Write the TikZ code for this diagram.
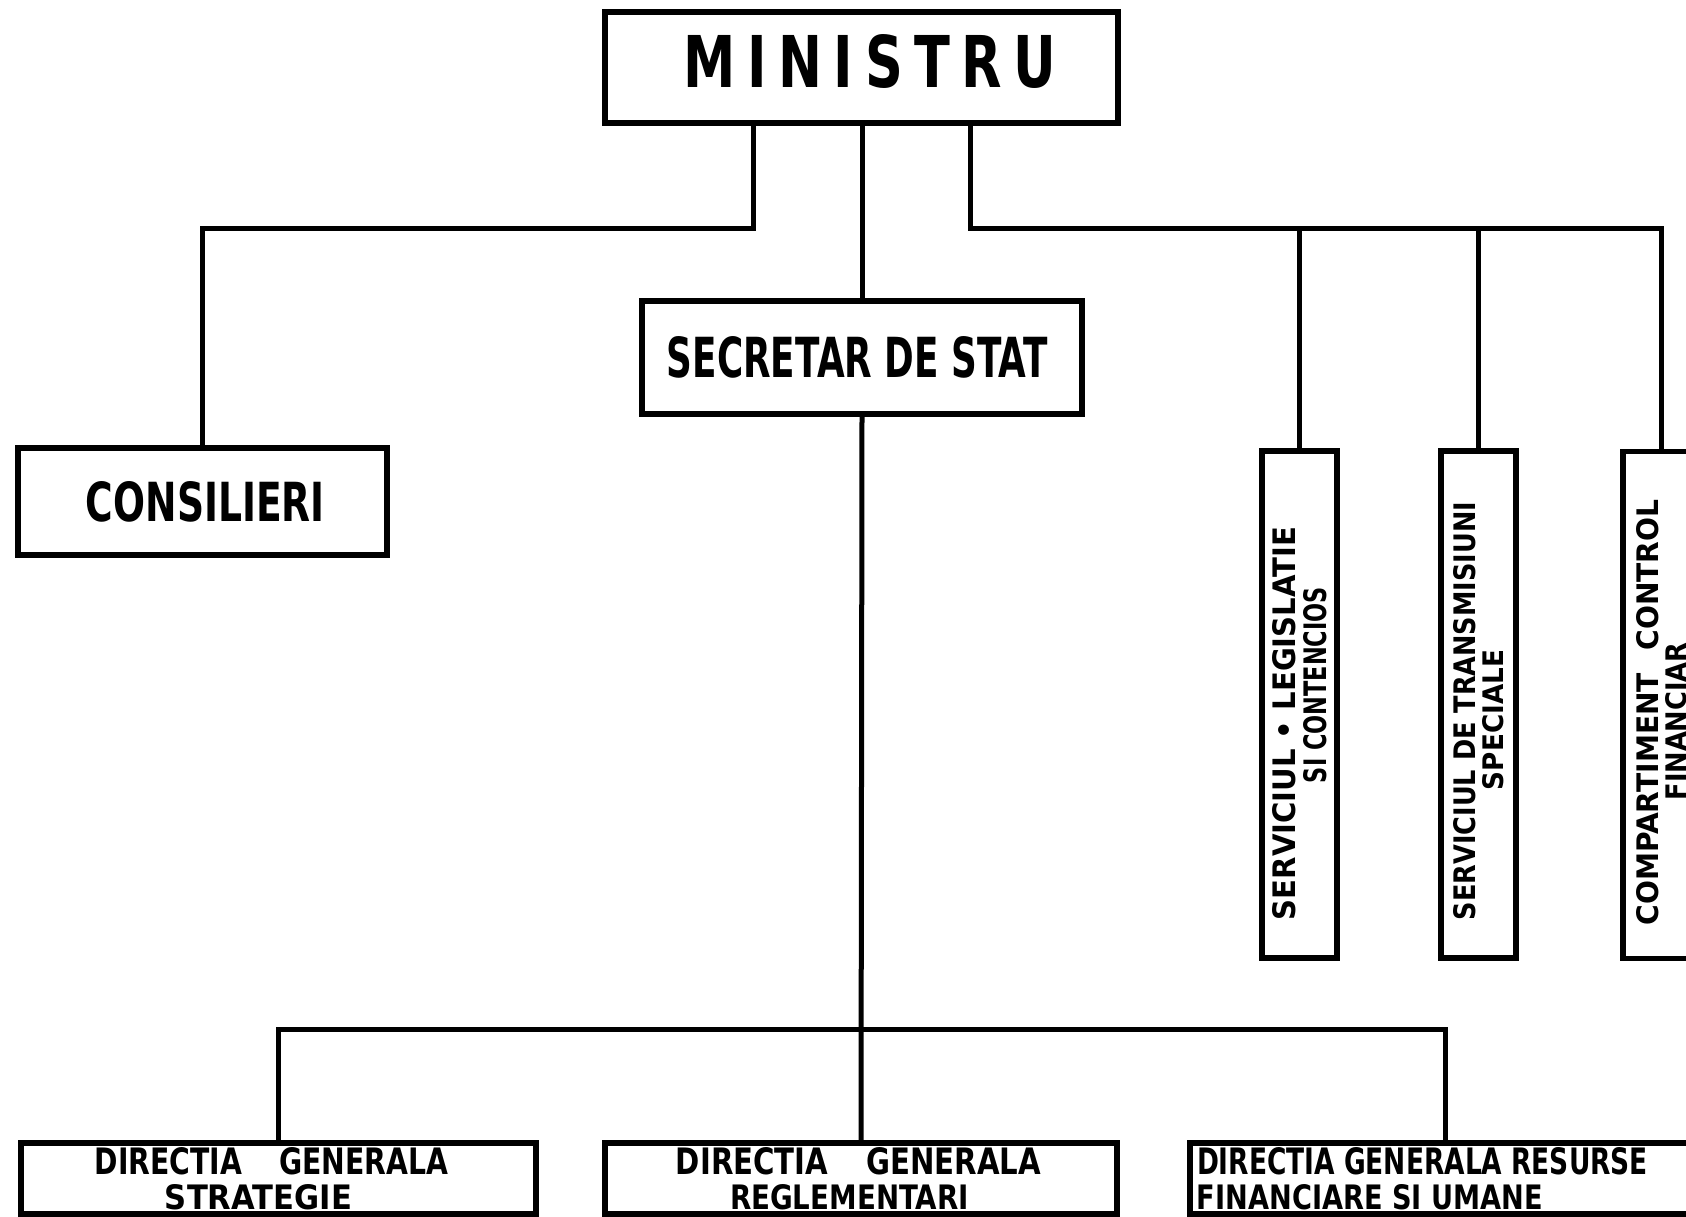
\documentclass[tikz,border=0pt]{standalone}
\usepackage{fontspec}
\setmainfont{DejaVu Sans}
\usepackage{graphicx}
\newcommand{\fitto}[3]{\resizebox{#1pt}{#2pt}{#3}}
\newcommand{\twoc}[3]{\vbox{\offinterlineskip\halign{\hfil##\hfil\cr#1\cr\noalign{\vskip#3pt}#2\cr}}}
\newcommand{\twol}[3]{\vbox{\offinterlineskip\halign{##\hfil\cr#1\cr\noalign{\vskip#3pt}#2\cr}}}
\newcommand{\padv}[3]{\vbox{\offinterlineskip\vskip#1pt\hbox{#3}\vskip#2pt}}
\begin{document}
\begin{tikzpicture}[x=1pt,y=-1pt,
  box/.style={draw=black, line width=5.5pt, rectangle, inner sep=0pt, outer sep=0pt, font=\bfseries},
  conn/.style={draw=black, line width=5pt}]
\useasboundingbox (0,0) rectangle (1686,1217);
\clip (0,0) rectangle (1686,1217);
\fill[white] (0,0) rectangle (1686,1217);

% top level
\node[box, minimum width=513pt, minimum height=111pt] (min) at (861.5,67.5)
  {\hspace*{17pt}\padv{0}{12}{\fitto{373}{53}{M\kern.22em I\kern.22em N\kern.22em I\kern.22em S\kern.22em T\kern.22em R\kern.22em U}}};
\node[box, minimum width=440pt, minimum height=113pt] (sec) at (862,357.5)
  {\fitto{381}{41}{SECRETAR DE STAT}\hspace*{9pt}};
\node[box, minimum width=369pt, minimum height=107pt] (cons) at (202.5,501.5)
  {\hspace*{6pt}\fitto{239}{40}{CONSILIERI}};

% vertical services
\node[box, minimum width=75pt, minimum height=507pt] (v1) at (1299.5,704.5)
  {\rotatebox{90}{\twoc{\fitto{393}{23}{SERVICIUL • LEGISLATIE}}{\hspace*{77pt}\fitto{196}{23}{SI CONTENCIOS}}{7}\hspace*{38pt}}};
\node[box, minimum width=75pt, minimum height=507pt] (v2) at (1478.5,704.5)
  {\rotatebox{90}{\twoc{\fitto{418}{22}{SERVICIUL DE TRANSMISIUNI}}{\fitto{140}{21}{SPECIALE}\hspace*{18pt}}{7}\hspace*{13pt}}};
\node[box, minimum width=77pt, minimum height=507pt] (v3) at (1661.5,705)
  {\rotatebox{90}{\twoc{\fitto{426}{22}{COMPARTIMENT\hspace{0.8em}CONTROL}}{\fitto{158}{21}{FINANCIAR}\hspace*{18pt}}{7}\hspace*{15pt}}};

% bottom directorates
\node[box, minimum width=515pt, minimum height=71pt] (da) at (278.5,1178.5)
  {\twoc{\fitto{353}{27}{DIRECTIA\hspace{1.3em}GENERALA}}{\fitto{187}{25}{STRATEGIE}\hspace*{26pt}}{9}\hspace*{14pt}};
\node[box, minimum width=512pt, minimum height=71pt] (db) at (861,1178.5)
  {\twoc{\fitto{365}{27}{DIRECTIA\hspace{1.3em}GENERALA}}{\fitto{239}{25}{REGLEMENTARI}\hspace*{18pt}}{9}\hspace*{5pt}};
\node[box, minimum width=510pt, minimum height=71pt] (dc) at (1445,1178.5)
  {\twol{\fitto{451}{27}{DIRECTIA GENERALA RESURSE}}{\fitto{346}{25}{FINANCIARE SI UMANE}}{9}\hspace*{45pt}};

% connectors
\coordinate (ja) at (753,228);
\coordinate (jb) at (970,228);
\coordinate (jc) at (861,1029);
\draw[conn] (ja |- min.south) -- (ja) -| (cons.north);
\draw[conn] (jb |- min.south) -- (jb) -| (v3.north);
\draw[conn] (v1.north |- jb) -- (v1.north);
\draw[conn] (v2.north |- jb) -- (v2.north);
\draw[conn] (min.south -| sec.north) -- (sec.north);
\draw[conn] (sec.south) -- (db.north);
\draw[conn] (da.north) |- (jc) -| (dc.north);
\end{tikzpicture}
\end{document}
